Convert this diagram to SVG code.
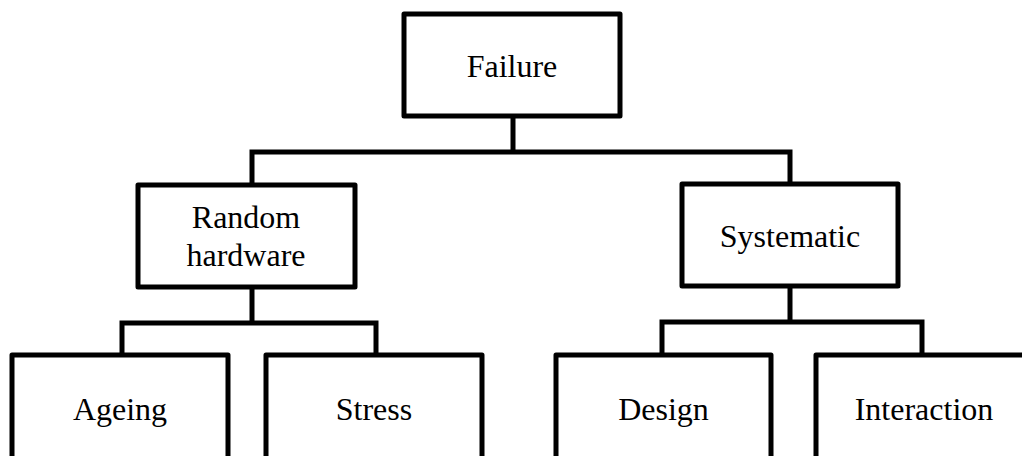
<svg xmlns="http://www.w3.org/2000/svg" width="1022" height="456" viewBox="0 0 1022 456">
<style>
.box{fill:#fff;stroke:#000;stroke-width:5;stroke-linejoin:round}
.con{fill:none;stroke:#000;stroke-width:5;stroke-linejoin:miter}
text{font-family:"Liberation Serif","Times New Roman",serif;font-size:32px;fill:#000;text-anchor:middle}
</style>
<rect width="1022" height="456" fill="#fff"/>
<g id="connectors">
<path class="con" d="M513 116V152M252 185V152H790V184"/>
<path class="con" d="M252 287V323M122 355V323H376V355"/>
<path class="con" d="M790 286V322M662 355V322H922V355"/>
</g>
<g id="failure"><rect class="box" x="404" y="14" width="216" height="102"/><text x="512" y="77">Failure</text></g>
<g id="random"><rect class="box" x="138" y="185" width="217" height="102"/><text x="246" y="228">Random</text><text x="246" y="266">hardware</text></g>
<g id="systematic"><rect class="box" x="682" y="184" width="216" height="102"/><text x="790" y="247">Systematic</text></g>
<g id="ageing"><rect class="box" x="12" y="355" width="216" height="120"/><text x="120" y="420">Ageing</text></g>
<g id="stress"><rect class="box" x="266" y="355" width="216" height="120"/><text x="374" y="420">Stress</text></g>
<g id="design"><rect class="box" x="556" y="355" width="215" height="120"/><text x="663.5" y="420">Design</text></g>
<g id="interaction"><rect class="box" x="816" y="355" width="216" height="120"/><text x="924" y="420">Interaction</text></g>
</svg>
